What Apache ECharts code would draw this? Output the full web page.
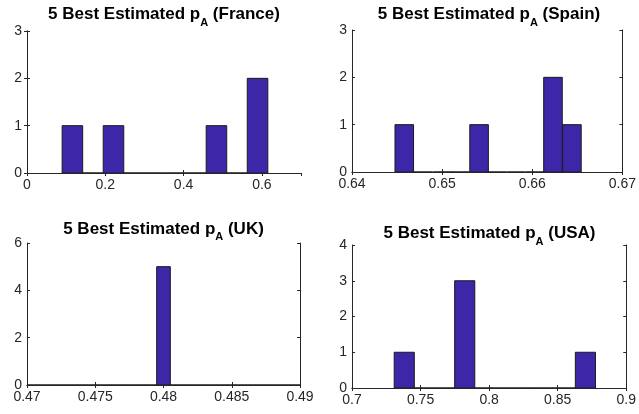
<!DOCTYPE html>
<html>
<head>
<meta charset="utf-8">
<script src="https://cdn.jsdelivr.net/npm/echarts@6/dist/echarts.min.js"></script>
<style>html,body{margin:0;padding:0;background:#fff}#c{width:639px;height:414px}</style>
</head>
<body>
<div id="c"></div>
<script>
// ---- data ----
const countries = ['France', 'Spain', 'UK', 'USA'];

const franceCenters = [0.116, 0.169, 0.221, 0.274, 0.326, 0.379, 0.431, 0.484, 0.536, 0.589];
const franceCounts  = [1, 0, 1, 0, 0, 0, 0, 1, 0, 2];
const franceBinWidth = 0.0525;

const spainCenters = [0.6458, 0.6479, 0.6500, 0.6520, 0.6541, 0.6561, 0.6582, 0.6603, 0.6623, 0.6644];
const spainCounts  = [1, 0, 0, 0, 1, 0, 0, 0, 2, 1];
const spainBinWidth = 0.00206;

const ukCenters = [0.470, 0.471, 0.472, 0.473, 0.474, 0.475, 0.476, 0.477, 0.478, 0.479, 0.480,
                   0.481, 0.482, 0.483, 0.484, 0.485, 0.486, 0.487, 0.488, 0.489, 0.490];
const ukCounts  = [0, 0, 0, 0, 0, 0, 0, 0, 0, 0, 5, 0, 0, 0, 0, 0, 0, 0, 0, 0, 0];
const ukBinWidth = 0.001;

const usaCenters = [0.7381, 0.7528, 0.7675, 0.7822, 0.7968, 0.8115, 0.8262, 0.8408, 0.8555, 0.8702];
const usaCounts  = [1, 0, 0, 3, 0, 0, 0, 0, 0, 1];
const usaBinWidth = 0.01467;

const xTicks = {
  France: [0, 0.7, 0.2],
  Spain:  [0.64, 0.67, 0.01],
  UK:     [0.47, 0.49, 0.005],
  USA:    [0.7, 0.9, 0.05]
};
const yTicks = {
  France: [0, 3, 1],
  Spain:  [0, 3, 1],
  UK:     [0, 6, 2],
  USA:    [0, 4, 1]
};

// ---- layout ----
const panels = [
  {name: 'France', centers: franceCenters, counts: franceCounts, w: franceBinWidth, left: 27, top: 31, width: 274, height: 142, titleY: 6, showMax: false},
  {name: 'Spain',  centers: spainCenters,  counts: spainCounts,  w: spainBinWidth,  left: 352, top: 30, width: 274, height: 142, titleY: 6, showMax: true},
  {name: 'UK',     centers: ukCenters,     counts: ukCounts,     w: ukBinWidth,     left: 27, top: 243, width: 273, height: 142, titleY: 220.5, showMax: true},
  {name: 'USA',    centers: usaCenters,    counts: usaCounts,    w: usaBinWidth,    left: 352, top: 245, width: 275, height: 143, titleY: 225, showMax: true}
];

const axisColor = '#262626';
const fontFam = '"Liberation Sans", Arial, sans-serif';
const fmt = {
  France: v => (Math.round(v * 10) / 10).toString(),
  Spain: v => (Math.round(v * 100) / 100).toString(),
  UK: v => (Math.round(v * 1000) / 1000).toString(),
  USA: v => (Math.round(v * 100) / 100).toString()
};

const option = {
  animation: false,
  backgroundColor: '#fff',
  title: [], grid: [], xAxis: [], yAxis: [], series: []
};

panels.forEach((p, i) => {
  option.title.push({
    text: '{t|5 Best Estimated p}{s|A}{t| (' + p.name + ')}',
    left: p.left + p.width / 2,
    textAlign: 'center',
    top: p.titleY,
    padding: 0,
    textStyle: {
      rich: {
        t: {fontFamily: fontFam, fontWeight: 'bold', fontSize: 17, color: '#000', verticalAlign: 'top', lineHeight: 18},
        s: {fontFamily: fontFam, fontWeight: 'bold', fontSize: 11, color: '#000', verticalAlign: 'top', lineHeight: 11, padding: [11, 0, 0, 0]}
      }
    }
  });
  option.grid.push({left: p.left, top: p.top, width: p.width, height: p.height, containLabel: false});
  const xt = xTicks[p.name], yt = yTicks[p.name];
  const commonLine = {show: true, lineStyle: {color: axisColor, width: 1}};
  option.xAxis.push({
    type: 'value', gridIndex: i, min: xt[0], max: xt[1], interval: xt[2], position: 'bottom',
    axisLine: commonLine, axisTick: {show: true, inside: true, length: 3, lineStyle: {color: axisColor}},
    axisLabel: {color: axisColor, fontSize: 14, fontFamily: fontFam, margin: 5, formatter: fmt[p.name], showMinLabel: true, showMaxLabel: p.showMax},
    splitLine: {show: false}
  });
  option.xAxis.push({
    type: 'value', gridIndex: i, min: xt[0], max: xt[1], interval: xt[2], position: 'top',
    axisLine: commonLine, axisTick: {show: true, inside: true, length: 3, lineStyle: {color: axisColor}},
    axisLabel: {show: false}, splitLine: {show: false}
  });
  option.yAxis.push({
    type: 'value', gridIndex: i, min: yt[0], max: yt[1], interval: yt[2], position: 'left',
    axisLine: commonLine, axisTick: {show: true, inside: true, length: 3, lineStyle: {color: axisColor}},
    axisLabel: {color: axisColor, fontSize: 14, fontFamily: fontFam, margin: 5},
    splitLine: {show: false}
  });
  option.yAxis.push({
    type: 'value', gridIndex: i, min: yt[0], max: yt[1], interval: yt[2], position: 'right',
    axisLine: commonLine, axisTick: {show: true, inside: true, length: 3, lineStyle: {color: axisColor}},
    axisLabel: {show: false}, splitLine: {show: false}
  });
  const data = p.centers.map((c, k) => [c, p.counts[k]]);
  const bw = p.w;
  option.series.push({
    type: 'custom',
    xAxisIndex: i * 2,
    yAxisIndex: i * 2,
    clip: true,
    data: data,
    renderItem: function (params, api) {
      const c = api.value(0), n = api.value(1);
      const p0 = api.coord([c - bw / 2, n]);
      const p1 = api.coord([c + bw / 2, 0]);
      return {
        type: 'rect',
        shape: {x: p0[0], y: p0[1], width: p1[0] - p0[0], height: p1[1] - p0[1]},
        style: {fill: '#3E26A8', stroke: '#1a1a1a', lineWidth: 1}
      };
    }
  });
});

const chart = echarts.init(document.getElementById('c'), null, {renderer: 'canvas'});
chart.setOption(option);
</script>
</body>
</html>
